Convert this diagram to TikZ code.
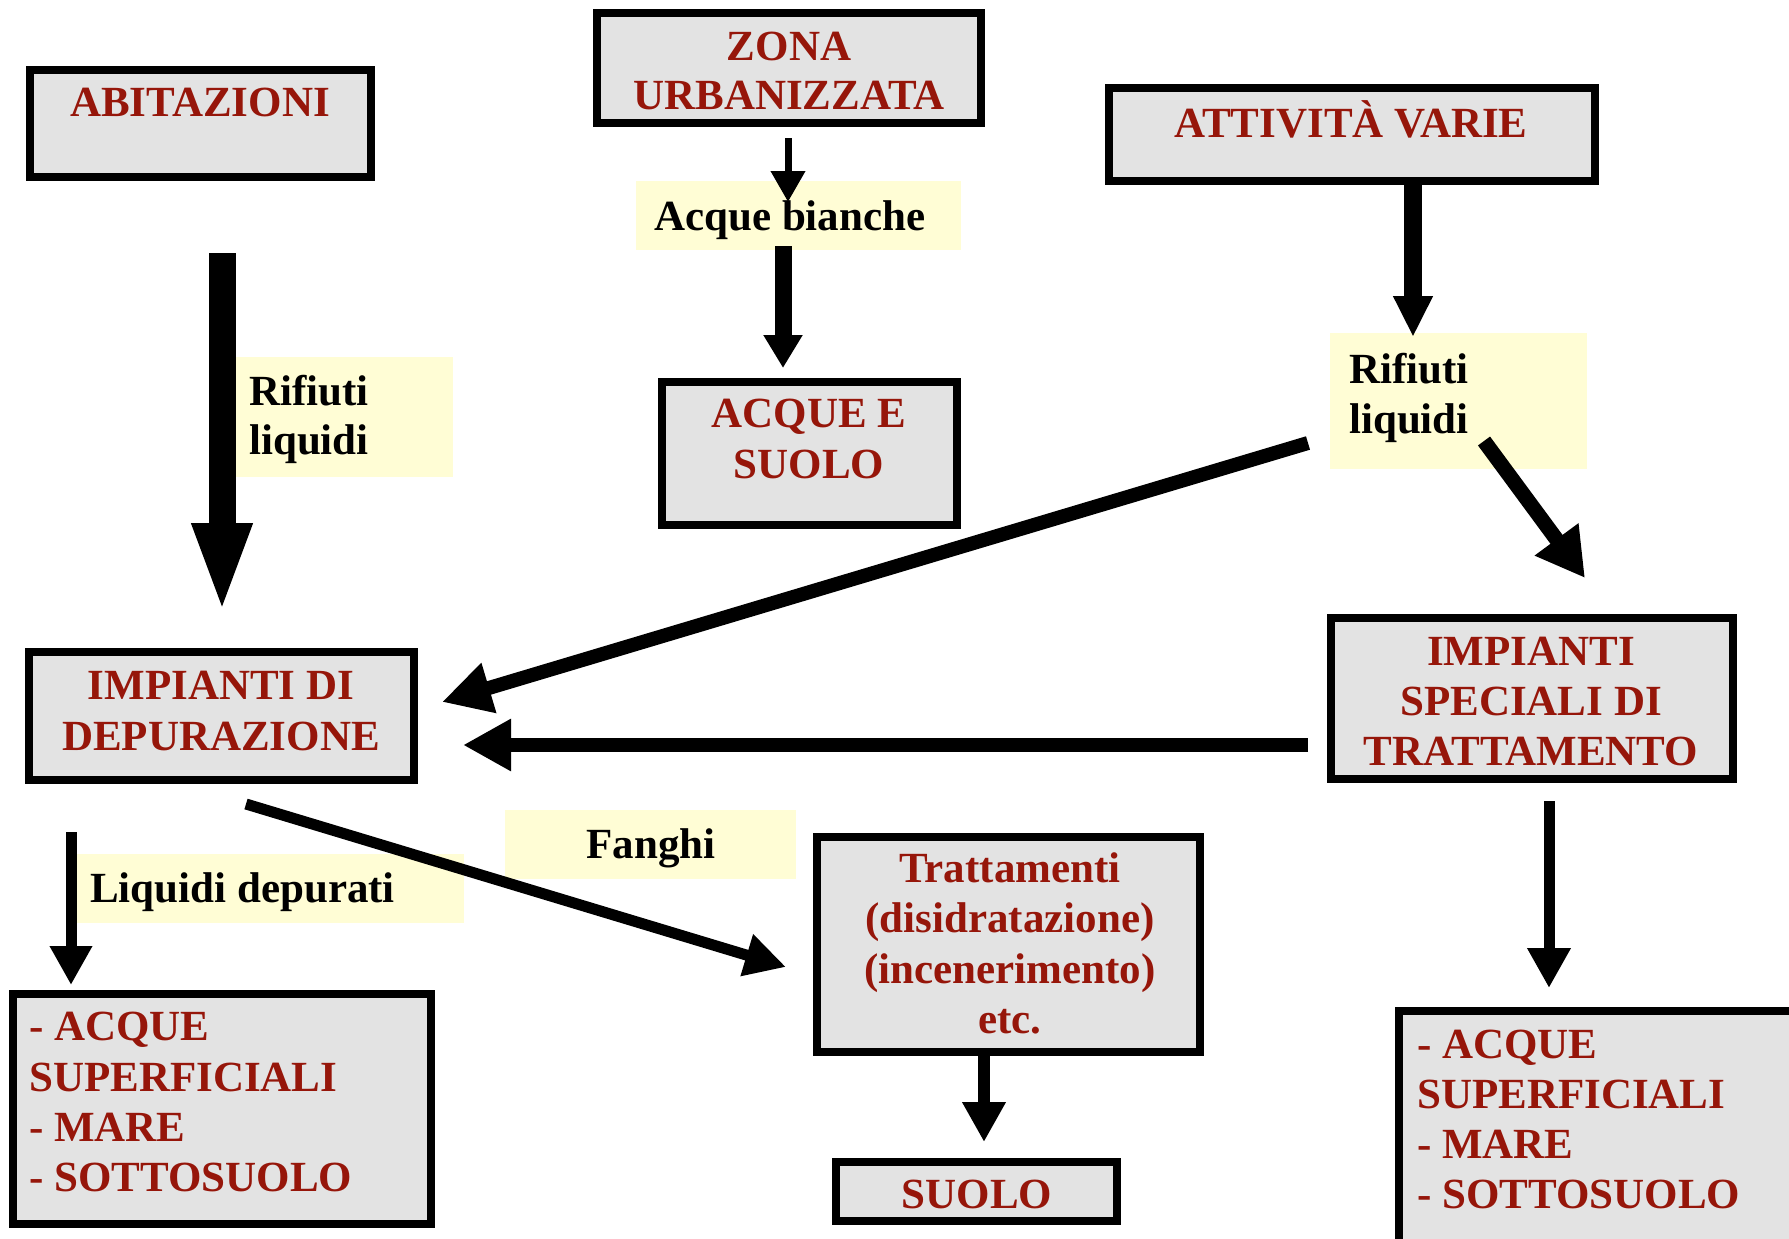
\documentclass[tikz,border=0pt]{standalone}
\usepackage{fontspec}
\setmainfont{Liberation Serif}
\usetikzlibrary{arrows.meta}
\definecolor{boxred}{RGB}{150,22,10}
\definecolor{boxgray}{RGB}{227,227,227}
\definecolor{lblyellow}{RGB}{255,253,213}
\tikzset{
  box/.style={draw=black, line width=8pt, fill=boxgray, rectangle, inner sep=0pt, outer sep=0pt},
  lbl/.style={fill=lblyellow, draw=none},
  rtxt/.style={inner sep=0pt, text=boxred, font=\fontsize{43pt}{50pt}\selectfont\bfseries},
  btxt/.style={inner sep=0pt, text=black, font=\fontsize{43pt}{50pt}\selectfont\bfseries},
  arr/.style={draw=black, line width=#1},
}
\begin{document}
\begin{tikzpicture}[x=1pt,y=-1pt]
\useasboundingbox (0,0) rectangle (1789,1239);
\fill[white] (0,0) rectangle (1789,1239);

% yellow label areas
\fill[lbl] (636,181) rectangle (961,250);
\fill[lbl] (234,357) rectangle (453,477);
\fill[lbl] (1330,333) rectangle (1587,469);
\fill[lbl] (505,810) rectangle (796,879);
\fill[lbl] (77,854) rectangle (464,923);

% boxes
\node[box, minimum width=341pt, minimum height=107pt] (abit) at (200.5,123.5) {};
\node[box, minimum width=384pt, minimum height=110pt] (zona) at (789,68) {};
\node[box, minimum width=295pt, minimum height=143pt] (acqsuolo) at (809.5,453.5) {};
\node[box, minimum width=486pt, minimum height=93pt] (attiv) at (1352,134.5) {};
\node[box, minimum width=402pt, minimum height=161pt] (spec) at (1532,698.5) {};
\node[box, minimum width=385pt, minimum height=128pt] (depur) at (221.5,716) {};
\node[box, minimum width=383pt, minimum height=215pt] (tratt) at (1008.5,944.5) {};
\node[box, minimum width=281pt, minimum height=59pt] (suolo) at (976.5,1191.5) {};
\node[box, minimum width=418pt, minimum height=230pt] (listL) at (222,1109) {};
\node[box, minimum width=397pt, minimum height=245pt] (listR) at (1597.5,1133.5) {};

% red texts
\node[rtxt, anchor=base] (tAbit) at (200,117) {ABITAZIONI};
\node[rtxt, anchor=base] (tZona1) at (789,60) {ZONA};
\node[rtxt, anchor=base] (tZona2) at (789,110) {URBANIZZATA};
\node[rtxt, anchor=base] (tAcq1) at (809,427) {ACQUE E};
\node[rtxt, anchor=base] (tAcq2) at (809,478) {SUOLO};
\node[rtxt, anchor=base] (tAtt) at (1351,137) {ATTIVITÀ VARIE};
\node[rtxt, anchor=base] (tSpec1) at (1531,665) {IMPIANTI};
\node[rtxt, anchor=base] (tSpec2) at (1531,715) {SPECIALI DI};
\node[rtxt, anchor=base] (tSpec3) at (1531,765) {TRATTAMENTO};
\node[rtxt, anchor=base] (tDep1) at (221,699) {IMPIANTI DI};
\node[rtxt, anchor=base] (tDep2) at (221,750) {DEPURAZIONE};
\node[rtxt, anchor=base] (tTr1) at (1010,882) {Trattamenti};
\node[rtxt, anchor=base] (tTr2) at (1010,932) {(disidratazione)};
\node[rtxt, anchor=base] (tTr3) at (1010,983) {(incenerimento)};
\node[rtxt, anchor=base] (tTr4) at (1010,1033) {etc.};
\node[rtxt, anchor=base] (tSuolo) at (977,1208) {SUOLO};
\node[rtxt, anchor=base west] (tL1) at (29,1040) {- ACQUE};
\node[rtxt, anchor=base west] (tL2) at (29,1091) {SUPERFICIALI};
\node[rtxt, anchor=base west] (tL3) at (29,1141) {- MARE};
\node[rtxt, anchor=base west] (tL4) at (29,1191) {- SOTTOSUOLO};
\node[rtxt, anchor=base west] (tR1) at (1417,1058) {- ACQUE};
\node[rtxt, anchor=base west] (tR2) at (1417,1108) {SUPERFICIALI};
\node[rtxt, anchor=base west] (tR3) at (1417,1158) {- MARE};
\node[rtxt, anchor=base west] (tR4) at (1417,1208) {- SOTTOSUOLO};

% black label texts
\node[btxt, anchor=base west] (lAB) at (654,230) {Acque bianche};
\node[btxt, anchor=base west] (lRL1) at (249,405) {Rifiuti};
\node[btxt, anchor=base west] (lRL2) at (249,454) {liquidi};
\node[btxt, anchor=base west] (lRR1) at (1349,383) {Rifiuti};
\node[btxt, anchor=base west] (lRR2) at (1349,433) {liquidi};
\node[btxt, anchor=base] (lFa) at (651,858) {Fanghi};
\node[btxt, anchor=base west] (lLD) at (90,902) {Liquidi depurati};

% connector end points
\coordinate (a1s) at (788,138);  \coordinate (a1e) at (788,202);
\coordinate (a2s) at (783,246);  \coordinate (a2e) at (783,368);
\coordinate (a3s) at (222,253);  \coordinate (a3e) at (222,614);
\coordinate (a4s) at (1413,184); \coordinate (a4e) at (1413,337);
\coordinate (a5s) at (1308,443); \coordinate (a5e) at (442,702);
\coordinate (a6s) at (1484,441); \coordinate (a6e) at (1585,578);
\coordinate (a7s) at (1308,745); \coordinate (a7e) at (463,745);
\coordinate (a8s) at (246,804);  \coordinate (a8e) at (786,967);
\coordinate (a9s) at (71,832);   \coordinate (a9e) at (71,985);
\coordinate (a10s) at (984,1056); \coordinate (a10e) at (984,1142);
\coordinate (a11s) at (1549,801); \coordinate (a11e) at (1549,988);

% arrows
\draw[arr=7pt, -{Triangle[length=31pt,width=33pt]}] (a1s) -- (a1e);
\draw[arr=17pt, -{Triangle[length=33pt,width=37pt]}] (a2s) -- (a2e);
\draw[arr=27pt, -{Triangle[length=91pt,width=54pt]}] (a3s) -- (a3e);
\draw[arr=18pt, -{Triangle[length=41pt,width=37pt]}] (a4s) -- (a4e);
\draw[arr=14pt, -{Triangle[length=49pt,width=49pt]}] (a5s) -- (a5e);
\draw[arr=15pt, -{Triangle[length=48pt,width=51pt]}] (a6s) -- (a6e);
\draw[arr=14pt, -{Triangle[length=48pt,width=49pt]}] (a7s) -- (a7e);
\draw[arr=11pt, -{Triangle[length=41pt,width=41pt]}] (a8s) -- (a8e);
\draw[arr=11pt, -{Triangle[length=39pt,width=40pt]}] (a9s) -- (a9e);
\draw[arr=11.5pt, -{Triangle[length=40pt,width=41pt]}] (a10s) -- (a10e);
\draw[arr=11pt, -{Triangle[length=40pt,width=41pt]}] (a11s) -- (a11e);
\end{tikzpicture}
\end{document}
